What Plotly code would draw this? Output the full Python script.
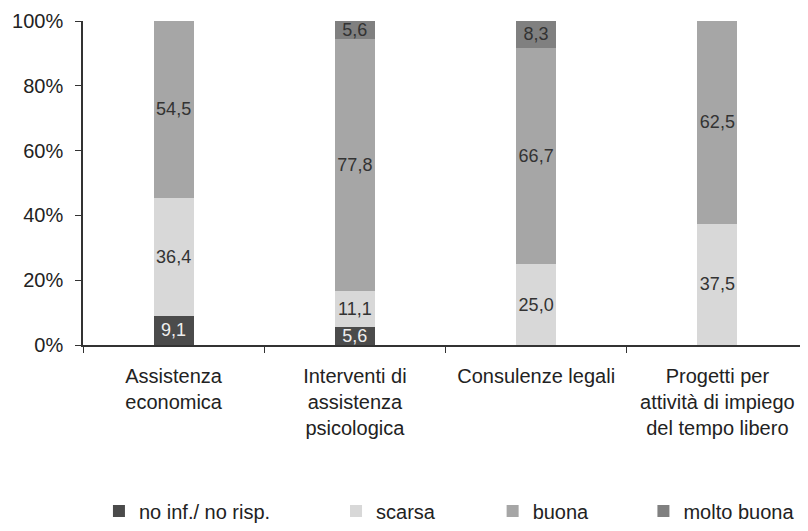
import plotly.graph_objects as go

categories = ["Assistenza<br>economica",
              "Interventi di<br>assistenza<br>psicologica",
              "Consulenze legali",
              "Progetti per<br>attività di impiego<br>del tempo libero"]
no_inf = [9.1, 5.6, 0, 0]
scarsa = [36.4, 11.1, 25.0, 37.5]
buona = [54.5, 77.8, 66.7, 62.5]
molto_buona = [0, 5.6, 8.3, 0]

series = [
    ("no inf./ no risp.", no_inf, "#4b4b4b", "#eeeeee"),
    ("scarsa", scarsa, "#d8d8d8", "#333333"),
    ("buona", buona, "#a6a6a6", "#333333"),
    ("molto buona", molto_buona, "#808080", "#333333"),
]
# legend placement (paper x) so each entry sits where it does in the original
legend_x = [0.022, 0.349, 0.565, 0.773]

fig = go.Figure()
for i, (name, vals, color, tcol) in enumerate(series):
    labels = [f"{v:.1f}".replace(".", ",") if v else "" for v in vals]
    fig.add_trace(go.Bar(
        x=categories, y=vals, name=name, marker_color=color,
        marker_line_width=0,
        text=labels, textposition="inside", insidetextanchor="middle",
        textangle=0, constraintext="none",
        textfont=dict(size=18, color=tcol, family="Liberation Sans, Arial"),
        legend="legend" if i == 0 else f"legend{i + 1}",
    ))

legend_style = dict(orientation="h", yanchor="middle", y=-0.512, xanchor="left",
                    font=dict(size=20, color="#222222", family="Liberation Sans, Arial"),
                    itemwidth=30, bgcolor="rgba(0,0,0,0)")
layout_legends = {}
for i, lx in enumerate(legend_x):
    key = "legend" if i == 0 else f"legend{i + 1}"
    layout_legends[key] = dict(legend_style, x=lx)

# page body adds an 8px margin, so the figure is 8px smaller and shifted
fig.update_layout(
    barmode="stack",
    bargap=0.78,
    width=800, height=523,
    margin=dict(l=75, r=0, t=13, b=180),
    plot_bgcolor="white", paper_bgcolor="white",
    showlegend=True,
    font=dict(family="Liberation Sans, Arial", color="#222222"),
    yaxis=dict(range=[0, 100], tickvals=[0, 20, 40, 60, 80, 100],
               ticktext=["0%", "20%", "40%", "60%", "80%", "100%"],
               showgrid=False, showline=True, linecolor="#333333", linewidth=1.5,
               ticks="outside", ticklen=6, tickcolor="#333333", automargin=False,
               ticklabelstandoff=8,
               tickfont=dict(size=20, color="#222222"), zeroline=False),
    xaxis=dict(showgrid=False, showline=True, linecolor="#333333", linewidth=1.5,
               ticks="outside", ticklen=6, tickcolor="#333333", tickson="boundaries",
               automargin=False, ticklabelstandoff=12,
               tickfont=dict(size=20, color="#222222")),
    **layout_legends,
)

fig.write_html("out.html")
